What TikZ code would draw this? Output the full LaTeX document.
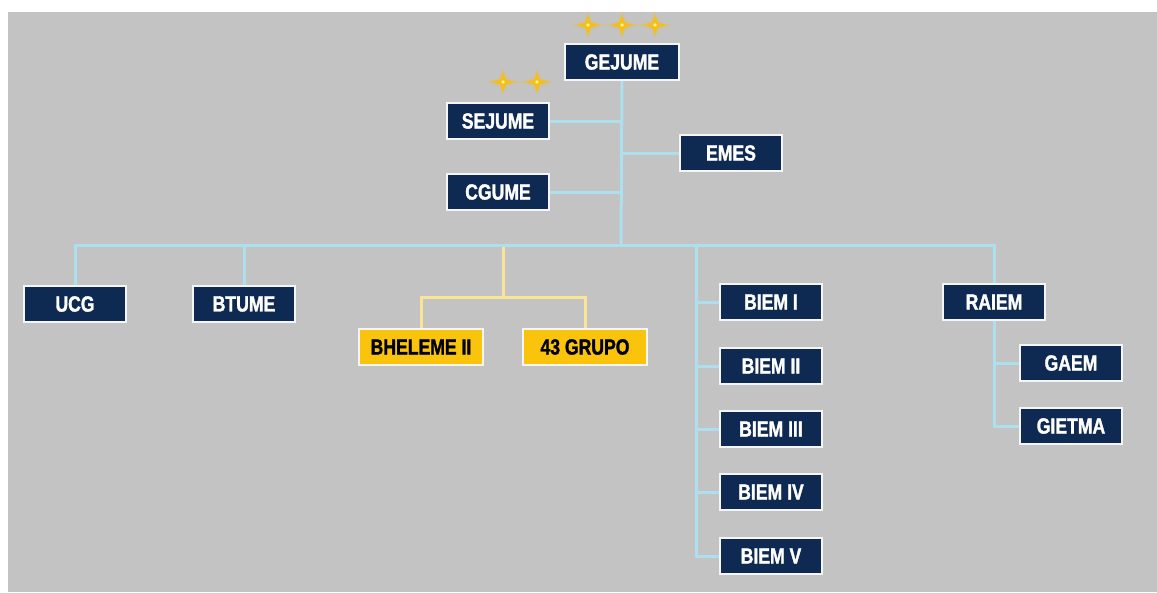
\documentclass[tikz,border=0pt]{standalone}
\usepackage{fontspec}
\usepackage{tikz}
\usetikzlibrary{backgrounds}
\newfontfamily\kastenfont{Liberation Sans}[FakeStretch=0.8, BoldFeatures={FakeBold=1.5}]
\definecolor{hgrau}{RGB}{195,195,195}
\definecolor{marine}{RGB}{14,42,82}
\definecolor{gold}{RGB}{250,196,12}
\definecolor{hblau}{RGB}{172,224,238}
\definecolor{hgelb}{RGB}{250,228,150}
\definecolor{stern}{RGB}{244,190,30}

\begin{document}
\begin{tikzpicture}
	[
	x=1pt, y=-1pt, font=\kastenfont\bfseries\fontsize{22}{22}\selectfont,
	%Voreinstellung für Kästen und Linien
	kasten/.style={draw=gray!60!black, double=white!92!gray, double distance=1.6pt, line width=0.5pt, fill=marine, text=white, minimum width=102pt, minimum height=36pt, inner sep=0pt},
	gelbkasten/.style={kasten, fill=gold, text=black, minimum width=124pt},
	linie/.style={hblau, line width=3pt},
	gelblinie/.style={hgelb, line width=3pt}
	]
	\useasboundingbox (0,0) rectangle (1157,592);
	%Kästen
	\node[kasten, minimum width=114pt] (gejume) at (622,62) {GEJUME};
	\node[kasten] (sejume) at (498,121) {SEJUME};
	\node[kasten] (cgume) at (498,192) {CGUME};
	\node[kasten] (emes) at (731,153) {EMES};
	\node[kasten] (ucg) at (75,304) {UCG};
	\node[kasten] (btume) at (244,304) {BTUME};
	\node[gelbkasten] (bheleme) at (421,347) {BHELEME II};
	\node[gelbkasten] (grupo) at (585,347) {43 GRUPO};
	\foreach \name/\text/\y in {biem1/BIEM I/302, biem2/BIEM II/366, biem3/BIEM III/429, biem4/BIEM IV/492, biem5/BIEM V/556}
		\node[kasten] (\name) at (771,\y) {\text};
	\node[kasten] (raiem) at (994,302) {RAIEM};
	\node[kasten] (gaem) at (1071,363) {GAEM};
	\node[kasten] (gietma) at (1071,426) {GIETMA};
	%Sterne
	\draw[stern!45!hgrau, line width=0.7pt] (572,25) -- (671,25);
	\draw[stern!45!hgrau, line width=0.7pt] (487,82) -- (553,82);
	\foreach \x/\y in {588/25, 622/25, 655/25, 503/82, 537/82}
	{
		\fill[stern!45!hgrau, shift={(\x,\y)}] (-15,0) -- (-3.5,-3.5) -- (0,-13) -- (3.5,-3.5) -- (15,0) -- (3.5,3.5) -- (0,13) -- (-3.5,3.5) -- cycle;
		\fill[stern, shift={(\x,\y)}] (-11,0) -- (-2.5,-2.5) -- (0,-10) -- (2.5,-2.5) -- (11,0) -- (2.5,2.5) -- (0,10) -- (-2.5,2.5) -- cycle;
		\fill[yellow!50!white, shift={(\x,\y)}] (0,0) circle (1.8);
	}
	%Verbindungen
	\coordinate (stamm) at (621,245);
	\coordinate (biemast) at (696,245);
	\coordinate (gelbast) at (503,245);
	\coordinate (gelbknoten) at (503,297);
	\begin{scope}[on background layer]
		%Hintergrund
		\fill[white] (0,0) rectangle (1157,592);
		\fill[hgrau] (8,12) rectangle (1157,592);
		\draw[gelblinie] (gelbast) -- (gelbknoten);
		\draw[gelblinie] (bheleme.north) |- (gelbknoten) -| (grupo.north);
		\draw[linie] (gejume.south) -- (stamm);
		\draw[linie] (sejume.east) -- (sejume.east -| stamm);
		\draw[linie] (cgume.east) -- (cgume.east -| stamm);
		\draw[linie] (emes.west) -- (emes.west -| stamm);
		\draw[linie] (ucg.north) |- (stamm) -| (raiem.north);
		\draw[linie] (btume.north) -- (btume.north |- stamm);
		\draw[linie] (biemast) |- (biem5.west);
		\foreach \name in {biem1, biem2, biem3, biem4}
			\draw[linie] (\name.west) -- (\name.west -| biemast);
		\draw[linie] (raiem.south) |- (gietma.west);
		\draw[linie] (gaem.west) -- (gaem.west -| raiem.south);
	\end{scope}
\end{tikzpicture}
\end{document}
